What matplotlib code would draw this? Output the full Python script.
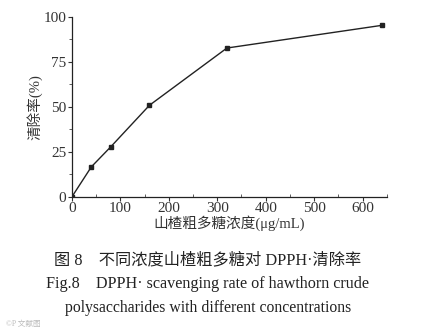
import matplotlib.pyplot as plt
from matplotlib.ticker import MultipleLocator

conc = [0, 40, 80, 160, 320, 640]
rate = [0, 16.6, 27.7, 50.8, 82.6, 95.2]

xticks = [0, 100, 200, 300, 400, 500, 600]
yticks = [0, 25, 50, 75, 100]

fam = ['Liberation Serif', 'Noto Sans CJK SC']
plt.rcParams['font.family'] = fam
plt.rcParams['text.color'] = '#222222'

fig = plt.figure(figsize=(4.25, 3.32), dpi=100)
ax = fig.add_axes([0.1694, 0.4075, 0.7406, 0.5422])

ax.plot(conc, rate, color='#222222', linewidth=1.0, marker='s', markersize=3.5)

ax.set_xlim(0, 650)
ax.set_ylim(0, 100)
ax.set_xticks(xticks)
ax.set_yticks(yticks)
ax.xaxis.set_minor_locator(MultipleLocator(50))
ax.yaxis.set_minor_locator(MultipleLocator(12.5))
ax.tick_params(which='major', length=3, width=0.8, labelsize=11, pad=1, colors='#333333')
ax.tick_params(which='minor', length=2, width=0.6, colors='#444444')
ax.tick_params(axis='x', which='minor', direction='in')
ax.spines['top'].set_visible(False)
ax.spines['right'].set_visible(False)
for s in ['left', 'bottom']:
    ax.spines[s].set_color('#222222')
    ax.spines[s].set_linewidth(0.9)

ax.set_xlabel('山楂粗多糖浓度(μg/mL)', fontsize=10.5, labelpad=0, color='#333333')
ax.set_ylabel('清除率(%)', fontsize=10.5, labelpad=1, color='#333333')

cx = 208 / 425
fig.text(cx, 1 - 260 / 332, '图 8　不同浓度山楂粗多糖对 DPPH·清除率', ha='center', va='center', fontsize=11.7)
fig.text(cx, 1 - 284 / 332, 'Fig.8　DPPH· scavenging rate of hawthorn crude', ha='center', va='center', fontsize=11.6)
fig.text(cx, 1 - 308 / 332, 'polysaccharides with different concentrations', ha='center', va='center', fontsize=11.3)
fig.text(0.015, 1 - 324 / 332, '©P 文献图', ha='left', va='center', fontsize=5.5, color='#bbbbbb')

fig.savefig('out.png', dpi=100)
